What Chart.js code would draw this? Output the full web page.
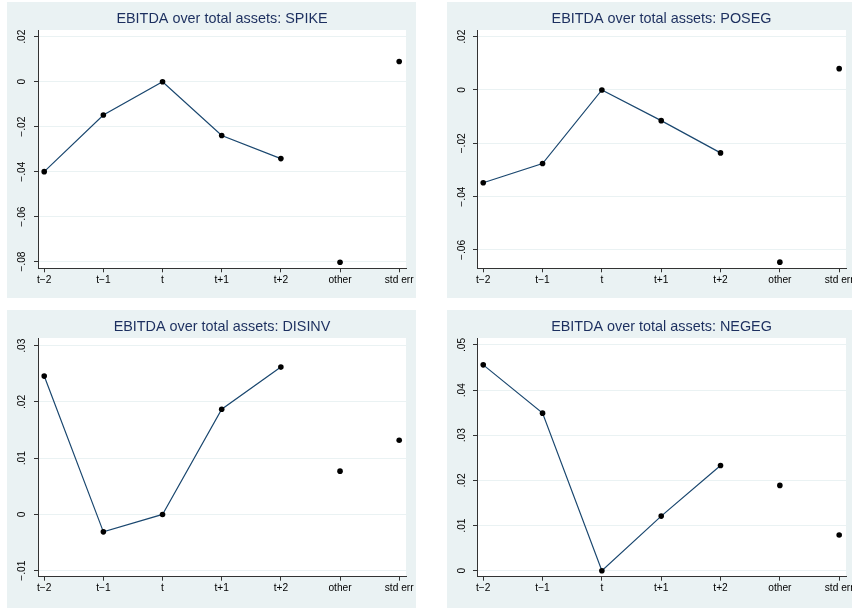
<!DOCTYPE html>
<html><head><meta charset="utf-8">
<script src="https://cdn.jsdelivr.net/npm/chart.js@4/dist/chart.umd.min.js"></script>
<style>
html,body{margin:0;padding:0;background:#fff;overflow:hidden;width:852px;height:608px;position:relative}
.panel{position:absolute;background:#eaf2f3;overflow:hidden}
canvas{display:block}
</style></head><body>
<div class="panel" style="left:7px;top:2px;width:409px;height:296px"><canvas id="c1" width="409" height="296"></canvas></div>
<div class="panel" style="left:447px;top:2px;width:409px;height:296px"><canvas id="c2" width="409" height="296"></canvas></div>
<div class="panel" style="left:7px;top:310px;width:409px;height:298px"><canvas id="c3" width="409" height="298"></canvas></div>
<div class="panel" style="left:447px;top:310px;width:409px;height:298px"><canvas id="c4" width="409" height="298"></canvas></div>
<script>
// ---- data ----
const categories = ['t\u22122', 't\u22121', 't', 't+1', 't+2', 'other', 'std err'];

const spikeTitle = 'EBITDA over total assets: SPIKE';
const spikeValues = [-0.0400, -0.0148, 0.0000, -0.0239, -0.0342, -0.0803, 0.0090];
const spikeTicks = [-0.08, -0.06, -0.04, -0.02, 0, 0.02];

const posegTitle = 'EBITDA over total assets: POSEG';
const posegValues = [-0.0348, -0.0276, 0.0000, -0.0115, -0.0236, -0.0646, 0.0080];
const posegTicks = [-0.06, -0.04, -0.02, 0, 0.02];

const disinvTitle = 'EBITDA over total assets: DISINV';
const disinvValues = [0.0246, -0.0031, 0.0000, 0.0187, 0.0262, 0.0077, 0.0132];
const disinvTicks = [-0.01, 0, 0.01, 0.02, 0.03];

const negegTitle = 'EBITDA over total assets: NEGEG';
const negegValues = [0.0456, 0.0349, 0.0000, 0.0121, 0.0233, 0.0189, 0.0079];
const negegTicks = [0, 0.01, 0.02, 0.03, 0.04, 0.05];

// ---- styling / layout ----
const FONT = '"Liberation Sans", Arial, sans-serif';
const TICK_FONT_SIZE = 10.2;
const TITLE_FONT_SIZE = 14.4;
const AXIS_COLOR = '#333333';
const GRID_COLOR = '#eaf2f3';
const LINE_COLOR = '#1a476f';
const TITLE_COLOR = '#1c2f5f';
const N_LINE = 5; // t-2 .. t+2 are connected

function fmt(v) {
  if (Math.abs(v) < 1e-9) return '0';
  const s = Math.abs(v).toFixed(2).replace(/^0/, '');
  return (v < 0 ? '\u2212' : '') + s;
}

const measureCtx = document.createElement('canvas').getContext('2d');
measureCtx.font = TICK_FONT_SIZE + 'px ' + FONT;
function widest(ticks) {
  return Math.max(...ticks.map(t => measureCtx.measureText(fmt(t)).width));
}

const plotBg = {
  id: 'plotBg',
  beforeDraw(chart) {
    const { ctx, chartArea: a } = chart;
    ctx.save();
    ctx.fillStyle = '#ffffff';
    ctx.fillRect(a.left, a.top, a.right - a.left, a.bottom - a.top);
    ctx.restore();
  }
};

function makePanel(id, title, values, ticks, yMin, yMax, yAxisWidth, xAxisHeight, labelDist) {
  const lineData = values.slice(0, N_LINE).map((v, i) => ({ x: i, y: v }));
  const dotData = values.slice(N_LINE).map((v, i) => ({ x: i + N_LINE, y: v }));
  const yPad = labelDist - 4 - widest(ticks) / 2;
  const lh = TITLE_FONT_SIZE * 1.2;
  new Chart(document.getElementById(id), {
    type: 'line',
    data: {
      datasets: [
        { data: lineData, borderColor: LINE_COLOR, borderWidth: 1.2, pointRadius: 2.8,
          pointBackgroundColor: '#000', pointBorderColor: '#000', pointBorderWidth: 0, tension: 0 },
        { data: dotData, showLine: false, pointRadius: 2.8,
          pointBackgroundColor: '#000', pointBorderColor: '#000', pointBorderWidth: 0 }
      ]
    },
    options: {
      responsive: false, animation: false, events: [],
      layout: { padding: { left: 0, right: 10, top: 0, bottom: 0 } },
      plugins: {
        legend: { display: false }, tooltip: { enabled: false },
        title: {
          display: true, text: title, fullSize: false, align: 'center', color: TITLE_COLOR,
          font: { family: FONT, size: TITLE_FONT_SIZE, weight: 'normal', lineHeight: 1.2 },
          padding: { top: 8.6, bottom: 28 - 8.6 - lh }
        }
      },
      scales: {
        x: {
          type: 'linear', min: -0.105, max: 6.115,
          afterBuildTicks: s => { s.ticks = categories.map((c, i) => ({ value: i })); },
          afterFit: s => { s.height = xAxisHeight; },
          ticks: { autoSkip: false, maxRotation: 0, minRotation: 0, padding: 1.6, color: '#000',
                   font: { family: FONT, size: TICK_FONT_SIZE },
                   callback: v => categories[v] },
          grid: { drawOnChartArea: false, drawTicks: true, tickLength: 4, tickColor: AXIS_COLOR, tickWidth: 1 },
          border: { display: true, color: AXIS_COLOR, width: 1 }
        },
        y: {
          type: 'linear', min: yMin, max: yMax,
          afterBuildTicks: s => { s.ticks = ticks.map(v => ({ value: v })); },
          afterFit: s => { s.width = yAxisWidth; },
          ticks: { minRotation: 90, maxRotation: 90, crossAlign: 'center', padding: yPad, color: '#000',
                   font: { family: FONT, size: TICK_FONT_SIZE },
                   callback: v => fmt(v) },
          grid: { drawOnChartArea: true, color: GRID_COLOR, lineWidth: 1, drawTicks: true, tickLength: 4,
                  tickColor: AXIS_COLOR, tickWidth: 1 },
          border: { display: true, color: AXIS_COLOR, width: 1 }
        }
      }
    },
    plugins: [plotBg]
  });
}

makePanel('c1', spikeTitle, spikeValues, spikeTicks, -0.0830, 0.0230, 31, 29.7, 15.7);
makePanel('c2', posegTitle, posegValues, posegTicks, -0.0669, 0.0225, 30, 29.7, 14.4);
makePanel('c3', disinvTitle, disinvValues, disinvTicks, -0.01107, 0.03137, 31, 31.3, 15.7);
makePanel('c4', negegTitle, negegValues, negegTicks, -0.00133, 0.05155, 30, 31.3, 14.4);
</script>
</body></html>
